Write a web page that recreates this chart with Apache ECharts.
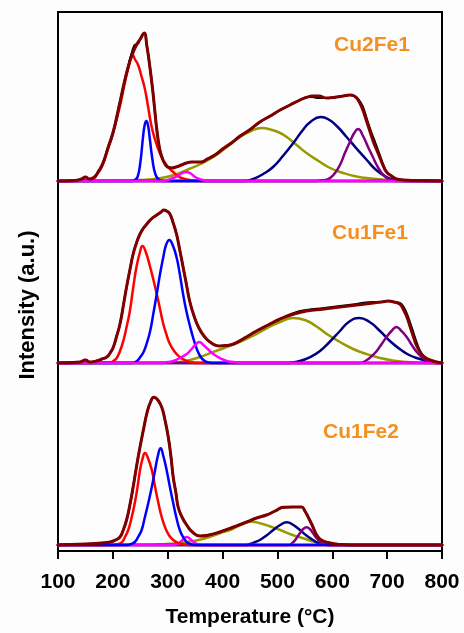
<!DOCTYPE html>
<html>
<head>
<meta charset="utf-8">
<script src="https://cdn.jsdelivr.net/npm/echarts@6/dist/echarts.min.js"></script>
<style>
  html, body { margin: 0; padding: 0; background: #fdfdfd; }
  #chart { width: 464px; height: 633px; }
</style>
</head>
<body>
<div id="chart"></div>
<script>
// H2-TPR profiles with Gaussian deconvolution, three catalysts stacked.
// Each curve: [temperature (°C), intensity (a.u.)]

const xTicks = [100, 200, 300, 400, 500, 600, 700, 800];
const sampleNames = ['Cu2Fe1', 'Cu1Fe1', 'Cu1Fe2'];

// ---- Cu2Fe1 ----
const cu2fe1Raw = [[100,0],[130,0.5],[143,2],[150,4],[157,2],[165,3],[173,9],[182,18],[191,33],[200,48],[209,69],[215,84],[221,99],[228,115],[235,129],[240,136],[245,137],[250,142],[257,148],[262,135],[267,116],[272,94],[276,73],[280,52],[285,33],[290,23],[294,18],[300,14],[307,13],[315,14],[325,16],[334,18],[343,19],[352,19],[361,19],[372,22],[386,26],[400,32],[416,38],[432,45],[449,51],[468,59],[487,65],[505,71],[523,76],[541,81],[555,84],[563,84],[575,83],[590,83],[600,83],[608,84],[620,85],[632,86],[640,85],[647,82],[655,75],[663,62],[669,52],[675,43],[681,34],[687,25],[693,16],[699,9],[708,5],[717,2],[730,1],[750,0.5],[800,0]];
const cu2fe1Fit = [[100,0],[130,0.5],[143,2],[150,4],[157,2],[165,3],[173,9],[182,18],[191,33],[200,48],[209,69],[215,84],[221,99],[228,114],[235,126],[243,136],[250,142],[257,148],[262,135],[267,116],[272,94],[276,73],[280,52],[285,33],[290,23],[294,18],[300,14],[307,13],[315,14],[325,16],[334,18],[343,19],[352,19],[361,19],[372,22],[386,26],[400,32],[416,38],[432,45],[449,51],[468,59],[487,65],[505,71],[523,76],[541,81],[555,84],[563,85],[575,85],[590,83],[600,83.5],[608,84],[620,85],[632,86],[640,85],[647,81],[655,72],[663,59],[669,49],[675,39],[681,31],[687,23],[693,15],[699,9],[708,5],[717,2],[730,1],[750,0.5],[800,0]];
const cu2fe1Red = [[100,0],[150,0.5],[160,2],[173,8],[182,17],[191,32],[200,47],[209,66],[215,80],[221,96],[228,113],[233,124],[236,126],[240,122],[246,116],[252,105],[258,93],[264,75],[270,56],[276,43],[282,33],[288,25],[294,19],[302,13],[310,9],[318,5],[325,3],[340,1],[360,0],[800,0]];
const cu2fe1Blue = [[100,0],[235,0],[240,1],[245,4],[250,18],[255,44],[258,56],[261,60],[264,56],[267,44],[272,22],[278,6],[285,1],[292,0],[800,0]];
const cu2fe1Magenta = [[100,0],[290,0],[300,1],[310,3],[318,5],[325,7.5],[333,9],[342,7.5],[350,4],[358,2],[368,0.5],[380,0],[800,0]];
const cu2fe1Olive = [[100,0],[230,0.3],[250,1],[275,2],[298,4],[317,7],[335,11],[360,17],[383,24],[408,34],[432,44],[452,50],[471,53],[490,51],[505,48],[517,44],[535,36],[553,28],[575,20],[596,13],[620,8],[644,4.5],[670,2.5],[700,1],[730,0.3],[760,0],[800,0]];
const cu2fe1Navy = [[100,0],[440,0],[456,2],[474,7],[492,14],[510,25],[529,38],[545,50],[560,59],[579,64],[595,61],[610,54],[626,44],[645,32],[663,21],[680,11],[699,4],[715,1],[730,0],[800,0]];
const cu2fe1Purple = [[100,0],[570,0],[578,0.5],[587,1],[596,3],[605,8],[614,16],[623,28],[632,39],[640,48],[647,52],[656,45],[666,33],[674,24],[681,16],[690,8],[699,3],[707,1],[715,0],[800,0]];

// ---- Cu1Fe1 ----
const cu1fe1Raw = [[100,0],[140,1],[150,3],[158,1],[170,2],[180,4],[189,6],[195,10],[201,16],[207,27],[213,39],[219,57],[225,76],[231,93],[237,109],[243,120],[249.5,129],[256,135],[262,139],[270,144],[280,148],[288,151],[293,153],[298,152],[304,149],[310,140],[316,129],[322,113],[328,96],[334,79],[340,62],[348,47],[356,36],[366,27],[377,21],[386,18],[395,17],[407,17.5],[420,19],[440,25],[462,32],[483,38],[505,44],[530,50],[553,53],[585,55],[614,57],[645,59],[675,61],[690,61],[702,62],[712,61],[723,60],[730,56],[736,49],[742,40],[748,30],[754,20],[760,12],[768,6],[778,3],[790,1],[800,0]];
const cu1fe1Fit = [[100,0],[140,1],[150,3],[158,1],[170,2],[180,4],[189,6],[195,10],[201,16],[207,27],[213,39],[219,57],[225,76],[231,93],[237,109],[243,120],[249.5,129],[256,135],[262,139],[270,144],[280,148],[288,151],[293,153],[298,152],[304,149],[310,140],[316,129],[322,113],[328,96],[334,79],[340,62],[348,47],[356,36],[366,27],[377,21],[386,18],[395,17],[407,17.5],[420,19],[440,25],[462,32],[483,38],[505,44],[530,49],[553,52],[585,54],[614,56],[645,58],[675,60],[690,61],[702,62],[712,61],[723,59],[730,53],[736,46],[742,36],[748,26],[754,17],[760,11],[768,6],[778,3],[790,1],[800,0]];
const cu1fe1Red = [[100,0],[195,0.5],[201,2],[207,5],[213,12],[219,22],[225,36],[231,52],[237,75],[243,96],[249,110],[254,117],[260,111],[268,96],[274,83],[280,69],[286,54],[292,39],[298,28],[304,19],[313,11],[322,6],[331,3],[340,1],[355,0],[800,0]];
const cu1fe1Blue = [[100,0],[235,0],[244,2],[250,6],[256,11],[262,20],[268,32],[274,50],[280,69],[286,89],[292,106],[297,118],[303,123],[309,118],[316,106],[322,89],[328,69],[334,52],[341,36],[347,24],[353,14],[359,7],[365,3],[371,1],[380,0],[800,0]];
const cu1fe1Magenta = [[100,0],[290,0],[300,1],[310,2],[322,5],[334.6,9],[342,13],[350,18],[357.6,21],[365,18],[373,14],[383,9],[395,5],[407.5,2],[420,1],[432,0],[800,0]];
const cu1fe1Olive = [[100,0],[300,0.3],[322,1],[340,3],[359,6],[383,11],[407.5,16],[435,22],[462,29],[485,36],[505,41],[529,45],[550,43],[570,37],[590,29],[614,21],[638,14],[662,9],[687,5],[710,2.5],[736,1],[760,0.3],[800,0]];
const cu1fe1Navy = [[100,0],[520,0],[541,2],[560,6],[577.6,12],[595,21],[614,32],[630,41],[649,45],[668,41],[687,32],[705,22],[723,14],[740,8],[760,4],[772,2],[784,0.5],[800,0]];
const cu1fe1Purple = [[100,0],[650,0],[663,3],[672,7],[681,12],[690,19],[699,26],[708,32],[717,36],[726,32],[735.6,26],[745,18],[754,11],[763,6],[772,2.5],[781,1],[790,0],[800,0]];

// ---- Cu1Fe2 ----
const cu1fe2Raw = [[100,0],[150,1],[180,2],[195,3],[205,5],[213,8],[219,15],[225,25],[231,40],[237,58],[243,78],[249.5,98],[256,116],[262,131.7],[268,142],[275,147.7],[282,145],[289,138],[295,125],[301,108],[306,88],[310,68],[315,52],[319,38],[326,28],[334.6,20],[345,13],[359,9],[375,10],[395,13],[420,18],[444,23],[462,27],[480,30],[496,34],[511,37.7],[528,38],[544,38],[550,34],[556,28],[564,19],[571.6,10],[580,5],[596,2],[615,0.5],[632,0],[800,0]];
const cu1fe2Fit = [[100,0],[150,1],[180,2],[195,3],[205,5],[213,8],[219,15],[225,25],[231,40],[237,58],[243,78],[249.5,98],[256,116],[262,131.7],[268,142],[275,147.7],[282,145],[289,138],[295,125],[301,108],[306,88],[310,68],[315,52],[319,38],[326,28],[334.6,20],[345,13],[359,9],[375,10],[395,13],[420,18],[444,23],[462,27],[480,30],[496,34],[511,37.7],[528,38],[544,38],[550,34],[556,28],[564,19],[571.6,10],[580,5],[596,2],[615,0.5],[632,0],[800,0]];
const cu1fe2Red = [[100,0],[200,0],[210,1],[217,3],[222,8],[228,15],[234,27],[240,42],[245,58],[249.5,75],[254,86],[258.6,92],[264,87],[271,75],[277,58],[283,42],[289,28],[295,18],[302,10],[310,5],[319,2],[328,1],[340,0],[800,0]];
const cu1fe2Blue = [[100,0],[225,0],[233,1],[240,3],[246,8],[252.5,15],[258,27],[264.6,42],[271,58],[277,75],[282,89],[287,96.7],[292,89],[298,75],[304,58],[310,42],[316,27],[322,15],[328,8],[334.6,3],[341,1],[350,0],[800,0]];
const cu1fe2Magenta = [[100,0],[310,0],[318,1],[325,4],[334.6,8],[343,5],[350,2],[358,0.5],[365,0],[800,0]];
const cu1fe2Olive = [[100,0],[270,0.3],[298,1],[322,2],[346.6,4],[370,7],[395,11.7],[418,16],[435,20.5],[453,23.3],[470,21.5],[487,18.5],[505,15],[525,10.5],[547,6.7],[562,4],[577.6,2],[595,0.8],[615,0],[800,0]];
const cu1fe2Navy = [[100,0],[440,0],[450,1],[460,3],[468,5],[480,9.5],[492.5,15],[505,20],[517,22.7],[529,20],[541,15],[553,9.5],[565,5],[574,2],[583,0.5],[590,0],[800,0]];
const cu1fe2Purple = [[100,0],[520,0],[529,3],[535,7],[541,11.7],[547,16],[553,17.7],[559,16],[565,11.7],[571,7],[577.6,3],[585,1],[592,0],[800,0]];

const FONT = '"Liberation Sans", Arial, sans-serif';
const COLORS = {
  red: '#ff0000', blue: '#0000ff', magenta: '#ff00ff', olive: '#999900',
  navy: '#000080', purple: '#800080', raw: '#000000', fit: '#800000'
};

// Stacking order of the component peaks (last one is drawn on top).
const orderTop = ['olive', 'navy', 'purple', 'red', 'blue', 'magenta'];
const orderBottom = ['olive', 'navy', 'purple', 'magenta', 'red', 'blue'];

const panels = [
  { name: sampleNames[0], raw: cu2fe1Raw, fit: cu2fe1Fit, red: cu2fe1Red, blue: cu2fe1Blue, magenta: cu2fe1Magenta, olive: cu2fe1Olive, navy: cu2fe1Navy, purple: cu2fe1Purple,
    top: 12, height: 183, min: -14, max: 169, order: orderTop },
  { name: sampleNames[1], raw: cu1fe1Raw, fit: cu1fe1Fit, red: cu1fe1Red, blue: cu1fe1Blue, magenta: cu1fe1Magenta, olive: cu1fe1Olive, navy: cu1fe1Navy, purple: cu1fe1Purple,
    top: 195, height: 182, min: -14, max: 168, order: orderTop },
  { name: sampleNames[2], raw: cu1fe2Raw, fit: cu1fe2Fit, red: cu1fe2Red, blue: cu1fe2Blue, magenta: cu1fe2Magenta, olive: cu1fe2Olive, navy: cu1fe2Navy, purple: cu1fe2Purple,
    top: 377, height: 187, min: -19, max: 168, order: orderBottom }
];

const chart = echarts.init(document.getElementById('chart'), null, { renderer: 'canvas' });

// Grid 0 is the outer frame carrying the temperature axis; grids 1..3 hold the panels.
const grids = [{ left: 58, right: 22, top: 12, bottom: 69, show: true, borderColor: '#000', borderWidth: 2, backgroundColor: 'transparent' }];
const xAxes = [{
  gridIndex: 0, type: 'value', min: 100, max: 800, interval: 100,
  axisLine: { show: true, lineStyle: { color: '#000', width: 2 } },
  axisTick: { show: true, inside: false, length: 8, lineStyle: { color: '#000', width: 2 } },
  axisLabel: { color: '#000', fontFamily: FONT, fontWeight: 'bold', fontSize: 21, margin: 21,
    formatter: v => xTicks.includes(v) ? String(v) : '' },
  splitLine: { show: false },
  name: 'Temperature (°C)', nameLocation: 'middle', nameGap: 56,
  nameTextStyle: { color: '#000', fontFamily: FONT, fontWeight: 'bold', fontSize: 21 }
}];
const yAxes = [{ gridIndex: 0, type: 'value', min: 0, max: 1, show: false }];
const series = [];

panels.forEach((p, i) => {
  const gi = i + 1;
  grids.push({ left: 58, right: 22, top: p.top, height: p.height });
  xAxes.push({ gridIndex: gi, type: 'value', min: 100, max: 800, show: false });
  yAxes.push({ gridIndex: gi, type: 'value', min: p.min, max: p.max, show: false });
  const line = (data, color, width, z) => ({
    type: 'line', xAxisIndex: gi, yAxisIndex: gi, data, showSymbol: false, symbol: 'none',
    smooth: 0.5, silent: true, z,
    lineStyle: { color, width, join: 'round', cap: 'round' }
  });
  p.order.forEach((k, j) => series.push(line(p[k], COLORS[k], 2.5, 2 + j * 0.1)));
  series.push(line(p.raw, COLORS.raw, 2.2, 3));
  series.push(line(p.fit, COLORS.fit, 3, 4));
});

const labelPos = [[372, 45], [370, 233], [361, 432]];
const graphics = panels.map((p, i) => ({
  type: 'text', x: labelPos[i][0], y: labelPos[i][1],
  style: { text: p.name, fill: '#f5901e', font: 'bold 21px ' + FONT, textAlign: 'center', textVerticalAlign: 'middle' }
}));
graphics.push({
  type: 'text', x: 28, y: 305, rotation: Math.PI / 2,
  style: { text: 'Intensity (a.u.)', fill: '#000', font: 'bold 22px ' + FONT, textAlign: 'center', textVerticalAlign: 'middle' }
});

chart.setOption({
  backgroundColor: '#fdfdfd',
  animation: false,
  grid: grids,
  xAxis: xAxes,
  yAxis: yAxes,
  series,
  graphic: graphics
});
</script>
</body>
</html>
